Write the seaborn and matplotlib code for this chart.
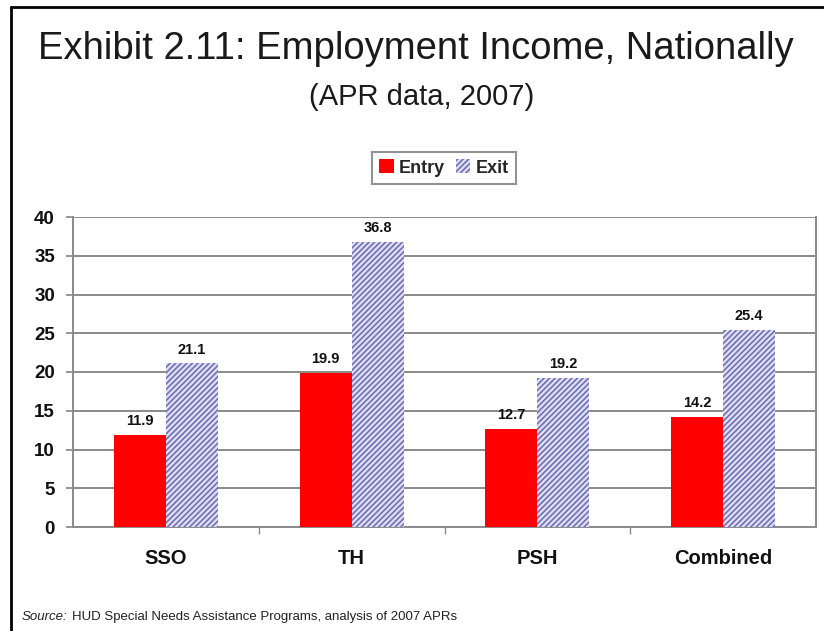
import matplotlib
matplotlib.use("Agg")
import matplotlib.pyplot as plt
import matplotlib.patches as mpatches
from matplotlib.lines import Line2D
import seaborn as sns
import pandas as pd

# Employment income data, APR 2007
programs = ["SSO", "TH", "PSH", "Combined"]
periods = ["Entry", "Exit"]
entry_values = [11.9, 19.9, 12.7, 14.2]
exit_values = [21.1, 36.8, 19.2, 25.4]
y_ticks = [0, 5, 10, 15, 20, 25, 30, 35, 40]

df = pd.DataFrame({
    "Program": programs * 2,
    "Period": ["Entry"] * len(programs) + ["Exit"] * len(programs),
    "Value": entry_values + exit_values,
})

sns.set_theme(style="white")
plt.rcParams["font.family"] = ["Liberation Sans", "DejaVu Sans"]
plt.rcParams["hatch.linewidth"] = 1.1

ENTRY_COLOR = "#ff0000"
EXIT_FACE = "#dcdcf5"
EXIT_HATCH = "#6a6aae"
GRID = "#8a8a8a"

fig = plt.figure(figsize=(8.24, 6.31), dpi=100)
fig.patch.set_facecolor("white")
ax = fig.add_axes([73 / 824, 1 - 527 / 631, (816 - 73) / 824, (527 - 217) / 631])

sns.barplot(data=df, x="Program", y="Value", hue="Period", order=programs,
            hue_order=periods, palette=[ENTRY_COLOR, EXIT_FACE], width=0.56,
            saturation=1, errorbar=None, ax=ax, zorder=3)

# style the exit bars with diagonal hatching
for bar in ax.containers[1]:
    bar.set_hatch("//////")
    bar.set_edgecolor(EXIT_HATCH)
    bar.set_linewidth(0)
for bar in ax.containers[0]:
    bar.set_linewidth(0)

for cont in ax.containers:
    ax.bar_label(cont, fmt="%.1f", padding=5, fontsize=10.5, fontweight="bold",
                 color="#111111")

ax.set_ylim(0, 40)
ax.set_xlim(-0.5, len(programs) - 0.5)
ax.set_yticks(y_ticks)
ax.set_yticklabels([str(v) for v in y_ticks], fontsize=13.5, fontweight="bold",
                   color="#111111")
ax.set_xticks(range(len(programs)))
ax.set_xticklabels(programs, fontsize=14.5, fontweight="bold", color="#111111")
ax.tick_params(axis="x", which="major", length=0, pad=16)
ax.set_xticks([0.5, 1.5, 2.5], minor=True)
ax.tick_params(axis="x", which="minor", length=5, color=GRID, direction="out",
               bottom=True)
ax.tick_params(axis="y", length=5, color=GRID, direction="out", left=True,
               pad=8)
ax.set_xlabel("")
ax.set_ylabel("")

ax.yaxis.grid(True, color=GRID, linewidth=1.4, zorder=0)
ax.set_axisbelow(True)
for side in ["left", "bottom", "right"]:
    ax.spines[side].set_color(GRID)
    ax.spines[side].set_linewidth(1.4)
ax.spines["top"].set_visible(False)

if ax.get_legend() is not None:
    ax.get_legend().remove()

handles = [
    mpatches.Patch(facecolor=ENTRY_COLOR, linewidth=0, label="Entry"),
    mpatches.Patch(facecolor=EXIT_FACE, edgecolor=EXIT_HATCH, hatch="//////",
                   linewidth=0, label="Exit"),
]
leg = fig.legend(handles=handles, loc="center", bbox_to_anchor=(444 / 824, 1 - 168 / 631),
                 ncol=2, frameon=True, fancybox=False, shadow=False,
                 prop={"weight": "bold", "size": 13}, handlelength=0.8,
                 handleheight=0.8, handletextpad=0.3, columnspacing=0.6,
                 borderpad=0.4, edgecolor="#777777")
leg.get_frame().set_linewidth(1.5)

fig.text(416 / 824, 1 - 49 / 631, "Exhibit 2.11: Employment Income, Nationally",
         ha="center", va="center", fontsize=27.5, color="#1a1a1a")
fig.text(422 / 824, 1 - 97 / 631, "(APR data, 2007)", ha="center", va="center",
         fontsize=21, color="#1a1a1a")

fig.text(22 / 824, 1 - 617 / 631, "Source:", ha="left", va="center",
         fontsize=9.5, style="italic", color="#222222")
fig.text(72 / 824, 1 - 617 / 631,
         "HUD Special Needs Assistance Programs, analysis of 2007 APRs",
         ha="left", va="center", fontsize=9.5, color="#222222")

# outer frame (left and top edges)
fig.add_artist(Line2D([11 / 824, 11 / 824], [0, 1 - 7 / 631], color="black",
                      linewidth=2, transform=fig.transFigure))
fig.add_artist(Line2D([11 / 824, 1], [1 - 7 / 631, 1 - 7 / 631], color="black",
                      linewidth=2, transform=fig.transFigure))

fig.savefig("out.png", dpi=100, facecolor="white")
